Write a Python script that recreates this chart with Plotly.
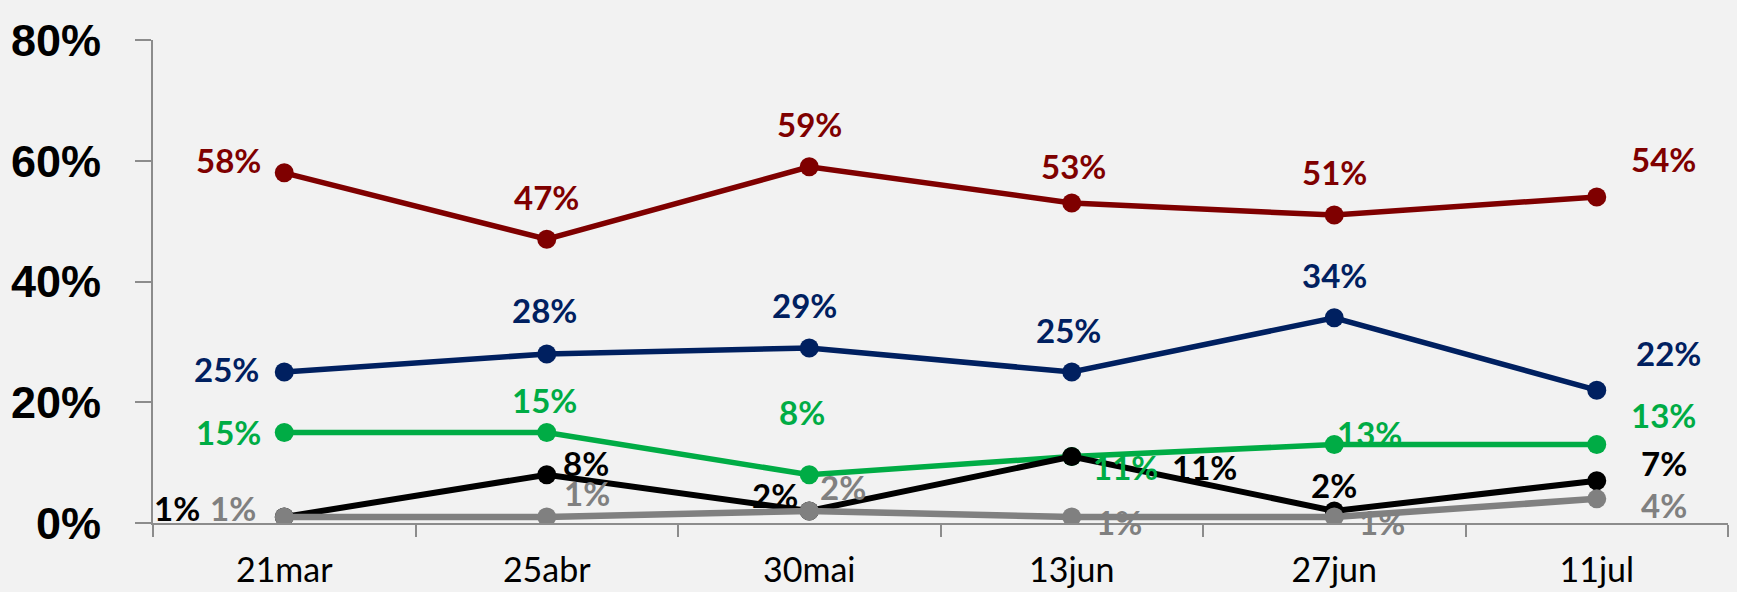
import plotly.graph_objects as go

# Survey dates (x categories)
dates = ["21mar", "25abr", "30mai", "13jun", "27jun", "11jul"]

# Series values, in percent
red_vals = [58, 47, 59, 53, 51, 54]
blue_vals = [25, 28, 29, 25, 34, 22]
green_vals = [15, 15, 8, 11, 13, 13]
black_vals = [1, 8, 2, 11, 2, 7]
gray_vals = [1, 1, 2, 1, 1, 4]

y_ticks = [0, 20, 40, 60, 80]

# Per-series style: colour, line width, and pixel offsets (dx, dy) of each value label
series = [
    (red_vals, "#7f0000", 5.5,
     [(-56, -13), (0, -42), (0, -43), (2, -37), (0, -43), (67, -38)]),
    (blue_vals, "#002060", 5.5,
     [(-58, -3), (-2, -44), (-5, -43), (-3, -42), (0, -43), (72, -37)]),
    (green_vals, "#00ac45", 5.5,
     [(-56, 0), (-2, -32), (-7, -63), (54, 10), (35, -12), (67, -30)]),
    (black_vals, "#000000", 6,
     [(-107, -9), (39, -12), (-34, -16), (133, 10), (0, -26), (67, -18)]),
    (gray_vals, "#808080", 6.5,
     [(-51, -9), (40, -24), (34, -24), (47, 5), (48, 5), (67, 6)]),
]

fig = go.Figure()
annotations = []
for vals, color, lw, offsets in series:
    fig.add_trace(go.Scatter(
        x=dates, y=vals, mode="lines+markers",
        line=dict(color=color, width=lw),
        marker=dict(color=color, size=19),
        showlegend=False, hoverinfo="skip",
    ))
    for d, v, (dx, dy) in zip(dates, vals, offsets):
        annotations.append(dict(
            x=d, y=v, xref="x", yref="y", text=f"{v}%", showarrow=False,
            xshift=dx, yshift=-dy,
            font=dict(family="Lato", size=33, color=color, weight="bold"),
        ))

axis_gray = "#8c8c8c"
fig.update_layout(
    width=1737, height=592,
    margin=dict(l=153, r=9, t=40, b=69, autoexpand=False),
    paper_bgcolor="#f2f2f2", plot_bgcolor="#f2f2f2",
    annotations=annotations,
    xaxis=dict(
        type="category", range=[-0.5, 5.5],
        showline=True, linecolor=axis_gray, linewidth=2,
        ticks="outside", tickson="boundaries", ticklen=12, tickwidth=2,
        tickcolor=axis_gray, showgrid=False, zeroline=False,
        tickfont=dict(family="Lato", size=34, color="#000000"),
        ticklabelstandoff=16,
    ),
    yaxis=dict(
        range=[0, 80], tickvals=y_ticks, ticktext=[f"{t}%" for t in y_ticks],
        showline=True, linecolor=axis_gray, linewidth=2,
        ticks="outside", ticklen=16, tickwidth=2, tickcolor=axis_gray,
        showgrid=False, zeroline=False,
        tickfont=dict(family="Liberation Sans", size=45, color="#000000", weight="bold"),
        ticklabelstandoff=25,
    ),
)

fig.write_html("out.html")
